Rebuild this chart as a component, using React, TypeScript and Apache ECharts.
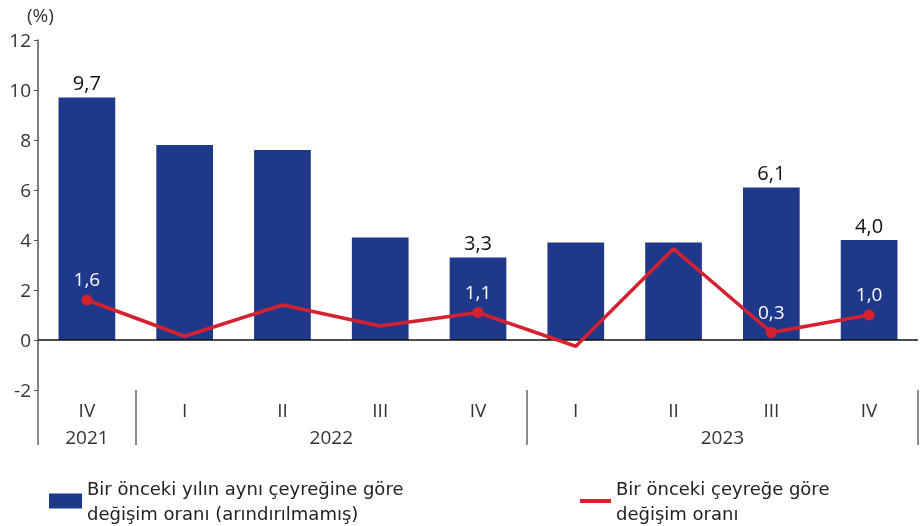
import React, { useEffect, useRef } from "react";
import * as echarts from "echarts";

const quarters = ["IV", "I", "II", "III", "IV", "I", "II", "III", "IV"];
const years = ["2021", "2022", "2023"];
const yearCenters = [0, 2.5, 6.5];
const yearBounds = [-0.5, 0.5, 4.5, 8.5];
const annualChange = [9.7, 7.8, 7.6, 4.1, 3.3, 3.9, 3.9, 6.1, 4.0];
const quarterlyChange = [1.6, 0.15, 1.4, 0.56, 1.1, -0.25, 3.65, 0.3, 1.0];
const labeledBars = [0, 4, 7, 8];
const labeledPoints = [0, 4, 7, 8];
const barName = "Bir önceki yılın aynı çeyreğine göre değişim oranı (arındırılmamış)";
const lineName = "Bir önceki çeyreğe göre değişim oranı";

const FONT = "'Open Sans', sans-serif";
const LEGEND_FONT = "'DejaVu Sans', sans-serif";
const fmt = (v: number) => v.toFixed(1).replace(".", ",");

export default function App() {
  const ref = useRef<HTMLDivElement>(null);
  useEffect(() => {
    if (!ref.current) return;
    const chart = echarts.init(ref.current, undefined, { renderer: "svg" });
    chart.setOption({
      animation: false,
      textStyle: { fontFamily: FONT },
      grid: { left: 38, right: 3, top: 40, bottom: 136 },
      graphic: [
        {
          type: "text",
          left: 27,
          top: 5,
          style: { text: "(%)", fontSize: 19, fill: "#333", fontFamily: FONT },
        },
      ],
      legend: [
        {
          left: 44,
          top: 471,
          data: [{ name: barName, icon: "rect" }],
          itemWidth: 33,
          itemHeight: 15,
          itemGap: 6,
          textStyle: { fontSize: 18, color: "#222", lineHeight: 25, fontFamily: LEGEND_FONT },
          formatter: () => "Bir önceki yılın aynı çeyreğine göre\ndeğişim oranı (arındırılmamış)",
        },
        {
          left: 575,
          top: 471,
          data: [{ name: lineName, icon: "rect" }],
          itemWidth: 31,
          itemHeight: 4,
          textStyle: { fontSize: 18, color: "#222", lineHeight: 25, fontFamily: LEGEND_FONT },
          formatter: () => "Bir önceki çeyreğe göre\ndeğişim oranı",
        },
      ],
      xAxis: [
        {
          type: "category",
          data: quarters,
          position: "bottom",
          axisLine: { show: false },
          axisTick: { show: false },
          axisLabel: { fontSize: 19, color: "#333", margin: 10 },
        },
        {
          type: "value",
          min: -0.5,
          max: 8.5,
          position: "bottom",
          axisLine: { show: false, onZero: false },
          splitLine: { show: false },
          axisTick: {
            show: true,
            customValues: yearBounds,
            length: 55,
            lineStyle: { color: "#666", width: 1.5 },
          },
          axisLabel: {
            customValues: yearCenters,
            margin: 37,
            fontSize: 19,
            color: "#333",
            formatter: (v: number) => years[yearCenters.indexOf(v)] ?? "",
          },
        },
      ],
      yAxis: {
        type: "value",
        min: -2,
        max: 12,
        interval: 2,
        axisLine: { show: true, onZero: false, lineStyle: { color: "#555", width: 1.5 } },
        axisTick: { show: true, length: 4, lineStyle: { color: "#555" } },
        splitLine: { show: false },
        axisLabel: { fontSize: 19, color: "#333", margin: 7 },
      },
      series: [
        {
          name: barName,
          type: "bar",
          barWidth: "58%",
          itemStyle: { color: "#1f388a" },
          data: annualChange.map((v, i) => ({
            value: v,
            label: {
              show: labeledBars.includes(i),
              position: "top",
              distance: 5,
              fontSize: 20,
              color: "#111",
              formatter: () => fmt(v),
            },
          })),
          markLine: {
            silent: true,
            symbol: "none",
            label: { show: false },
            lineStyle: { color: "#111", width: 1.5, type: "solid" },
            data: [{ yAxis: 0 }],
          },
        },
        {
          name: lineName,
          type: "line",
          z: 5,
          symbol: "circle",
          symbolSize: 11,
          lineStyle: { color: "#d52231", width: 3.5 },
          itemStyle: { color: "#d52231" },
          data: quarterlyChange.map((v, i) => ({
            value: v,
            symbol: labeledPoints.includes(i) ? "circle" : "none",
            label: {
              show: labeledPoints.includes(i),
              position: "top",
              distance: 6,
              fontSize: 19,
              color: "#fff",
              formatter: () => fmt(v),
            },
          })),
        },
      ],
    });
    return () => chart.dispose();
  }, []);
  return (
    <div
      ref={ref}
      style={{ position: "fixed", left: 0, top: 0, width: 921, height: 526 }}
    />
  );
}
